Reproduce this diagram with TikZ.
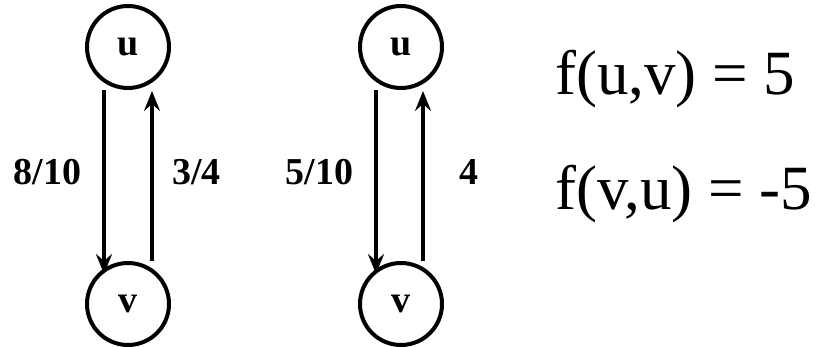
\documentclass[tikz,border=0pt]{standalone}
\usepackage{fontspec}
\setmainfont{Liberation Serif}
\usetikzlibrary{arrows.meta}
\begin{document}
\begin{tikzpicture}[x=1pt,y=-1pt,
  vert/.style={circle,draw,line width=4pt,minimum size=82pt,inner sep=0pt,font=\fontsize{38}{40}\selectfont\bfseries},
  arr/.style={line width=4.5pt,-{Stealth[length=20pt,width=16pt,inset=7pt]}},
  lbl/.style={font=\fontsize{38}{40}\selectfont\bfseries,inner sep=0pt},
  eq/.style={font=\fontsize{63}{65}\selectfont,inner sep=0pt,anchor=base west}]
\useasboundingbox (0,0) rectangle (826,347);
\node[vert] (u1) at (128,47) {u};
\node[vert] (v1) at (128,304) {v};
\node[vert] (u2) at (401,47) {u};
\node[vert] (v2) at (401,304) {v};
\draw[arr] ([xshift=-24pt]u1.south) -- ([xshift=-24pt,yshift=-13pt]v1.north);
\draw[arr] ([xshift=24pt]v1.north) -- ([xshift=24pt,yshift=-1pt]u1.south);
\draw[arr] ([xshift=-25pt]u2.south) -- ([xshift=-25pt,yshift=-13pt]v2.north);
\draw[arr] ([xshift=22pt]v2.north) -- ([xshift=22pt,yshift=-1pt]u2.south);
\node[lbl] (l1) at (47.5,172) {8/10};
\node[lbl] (l2) at (196.5,172) {3/4};
\node[lbl] (l3) at (319.5,172) {5/10};
\node[lbl] (l4) at (468.5,172) {4};
\node[eq] (e1) at (555,95) {f(u,v) = 5};
\node[eq] (e2) at (555,210) {f(v,u) = -5};
\end{tikzpicture}
\end{document}
